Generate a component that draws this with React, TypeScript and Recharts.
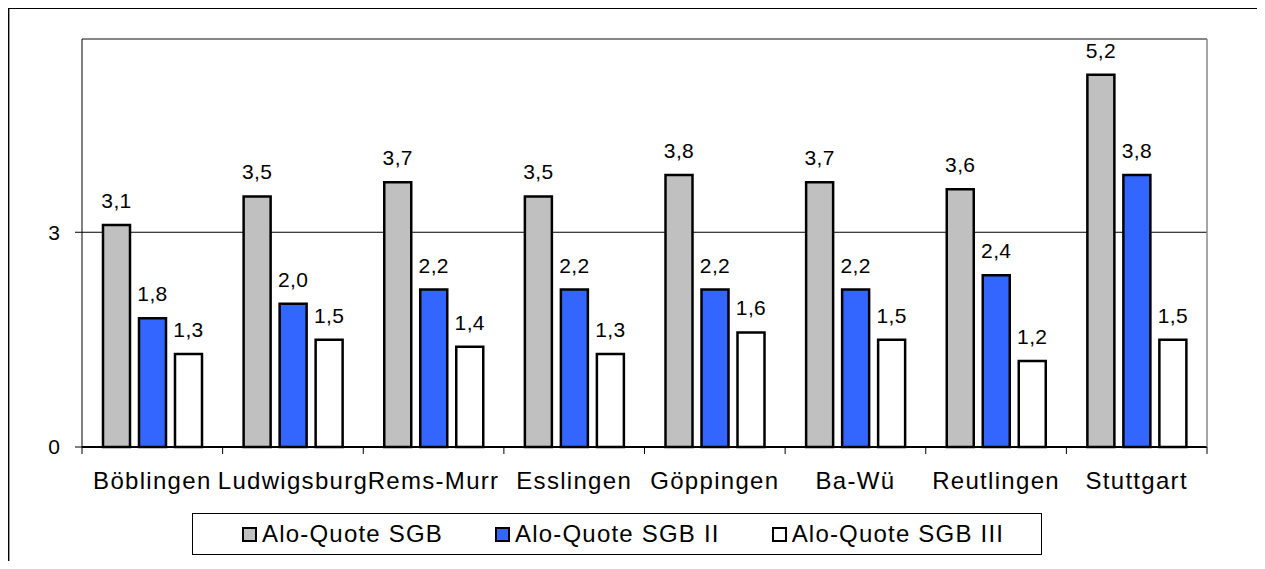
import { BarChart, Bar, XAxis, YAxis, CartesianGrid, ReferenceLine, LabelList } from 'recharts'

const categories = ['Böblingen', 'Ludwigsburg', 'Rems-Murr', 'Esslingen', 'Göppingen', 'Ba-Wü', 'Reutlingen', 'Stuttgart']
const quoteSgb = [3.1, 3.5, 3.7, 3.5, 3.8, 3.7, 3.6, 5.2]
const quoteSgb2 = [1.8, 2.0, 2.2, 2.2, 2.2, 2.2, 2.4, 3.8]
const quoteSgb3 = [1.3, 1.5, 1.4, 1.3, 1.6, 1.5, 1.2, 1.5]
const yTicks = [0, 3]
const yMax = 5.7

const seriesNames = ['Alo-Quote SGB', 'Alo-Quote SGB II', 'Alo-Quote SGB III']
const seriesColors = ['#C0C0C0', '#3366FF', '#FFFFFF']

const W = 1265
const H = 569
const LEFT = 82
const RIGHT = 58
const FONT = '"Liberation Sans", Arial, sans-serif'
const BAND = (W - LEFT - RIGHT) / categories.length

const chartData = categories.map((c, i) => ({
  name: c,
  sgb: quoteSgb[i],
  sgb2: quoteSgb2[i],
  sgb3: quoteSgb3[i],
}))

const fmt = (v: any) => Number(v).toFixed(1).replace('.', ',')

function CategoryTick(props: any) {
  const { x, y, payload, index } = props
  return (
    <g>
      <line x1={x - BAND / 2} x2={x - BAND / 2} y1={y} y2={y + 7} stroke="#000" strokeWidth={1} />
      {index === categories.length - 1 && (
        <line x1={x + BAND / 2} x2={x + BAND / 2} y1={y} y2={y + 7} stroke="#000" strokeWidth={1} />
      )}
      <text x={x} y={y + 42} textAnchor="middle" fontSize={24} letterSpacing={1.3} fontFamily={FONT} fill="#000">
        {payload.value}
      </text>
    </g>
  )
}

export default function App() {
  const keys = ['sgb', 'sgb2', 'sgb3']
  return (
    <div style={{ position: 'relative', width: W, height: H, margin: -8, overflow: 'hidden', background: '#fff', fontFamily: FONT }}>
      <div
        style={{
          position: 'absolute',
          left: 7,
          top: 7,
          width: 1255,
          height: 600,
          borderTop: '2px solid #000',
          borderLeft: '2px solid #000',
          borderRight: '1px solid #999',
          boxShadow: 'inset 1px 0 0 #999',
          boxSizing: 'border-box',
        }}
      />
      <div style={{ position: 'absolute', left: 0, top: 0 }}>
        <BarChart
          width={W}
          height={H}
          data={chartData}
          margin={{ top: 39, right: 0, left: 0, bottom: 72 }}
          barCategoryGap={21}
          barGap={9}
        >
          <CartesianGrid yAxisId="left" vertical={false} stroke="#000" strokeWidth={1} />
          <XAxis
            dataKey="name"
            height={50}
            interval={0}
            tickLine={false}
            tickSize={0}
            tickMargin={0}
            axisLine={{ stroke: '#000', strokeWidth: 2 }}
            tick={<CategoryTick />}
          />
          <YAxis
            yAxisId="left"
            width={LEFT}
            domain={[0, yMax]}
            ticks={yTicks}
            tickSize={7}
            tickMargin={15}
            axisLine={{ stroke: '#000', strokeWidth: 1 }}
            tickLine={{ stroke: '#000' }}
            tick={{ fontSize: 21, fill: '#000', fontFamily: FONT }}
          />
          <YAxis
            yAxisId="right"
            orientation="right"
            width={RIGHT}
            domain={[0, yMax]}
            ticks={yTicks}
            tick={false}
            tickLine={false}
            axisLine={{ stroke: '#888', strokeWidth: 1.5 }}
          />
          <ReferenceLine yAxisId="left" y={yMax} stroke="#888" strokeWidth={1.5} />
          {keys.map((k, i) => (
            <Bar
              key={k}
              yAxisId="left"
              dataKey={k}
              name={seriesNames[i]}
              fill={seriesColors[i]}
              stroke="#000"
              strokeWidth={2.5}
              isAnimationActive={false}
            >
              <LabelList
                dataKey={k}
                position="top"
                offset={17}
                formatter={fmt}
                fill="#000"
                fontSize={21}
                fontFamily={FONT}
                letterSpacing={0.4}
              />
            </Bar>
          ))}
        </BarChart>
      </div>
      <div
        style={{
          position: 'absolute',
          left: 192,
          top: 513,
          width: 850,
          height: 42,
          border: '1px solid #000',
          boxSizing: 'border-box',
          display: 'flex',
          alignItems: 'center',
          paddingLeft: 49,
          fontSize: 24,
          letterSpacing: 1.2,
          color: '#000',
          whiteSpace: 'nowrap',
        }}
      >
        {seriesNames.map((n, i) => (
          <div key={n} style={{ display: 'flex', alignItems: 'center', marginRight: 52, flexShrink: 0 }}>
            <span
              style={{
                width: 15,
                height: 15,
                background: seriesColors[i],
                border: '2px solid #000',
                boxSizing: 'border-box',
                marginRight: 5,
                flexShrink: 0,
              }}
            />
            <span style={{ lineHeight: '24px' }}>{n}</span>
          </div>
        ))}
      </div>
    </div>
  )
}
